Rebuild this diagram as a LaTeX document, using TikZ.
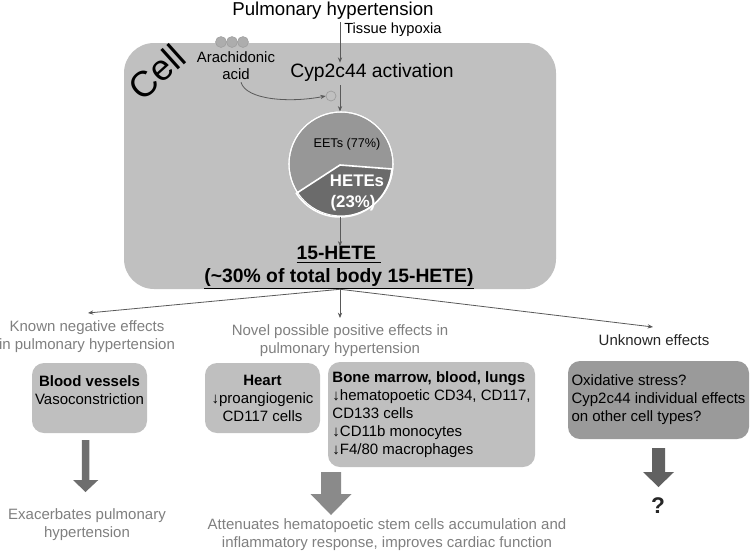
\documentclass[tikz,border=0pt]{standalone}
\usepackage{fontspec}
\setmainfont{Liberation Sans}
\usetikzlibrary{arrows.meta}
\definecolor{cellfill}{HTML}{C0C0C0}
\definecolor{boxfill}{HTML}{BFBFBF}
\definecolor{darkbox}{HTML}{9A9A9A}
\definecolor{eetfill}{HTML}{979797}
\definecolor{hetefill}{HTML}{6B6B6B}
\definecolor{connc}{HTML}{595959}
\definecolor{graytext}{HTML}{7F7F7F}
\definecolor{darktext}{HTML}{262626}
\definecolor{blockA}{HTML}{6E6E6E}
\definecolor{blockB}{HTML}{8A8A8A}
\definecolor{blockC}{HTML}{616161}
\definecolor{dotfill}{HTML}{ADADAD}
\definecolor{dotline}{HTML}{9C9C9C}
\begin{document}
\begin{tikzpicture}[x=0.75pt,y=-0.75pt,
  lbl/.style={inner sep=0pt, align=center, font=\fontsize{11.25}{13.5}\selectfont},
  conn/.style={draw=connc, line width=0.6pt, -{Stealth[length=4pt,width=3.2pt]}},
  lbox/.style={fill=boxfill, rounded corners=9pt, inner sep=0pt, align=center,
    font=\fontsize{11.25}{13.5}\selectfont},
  blockarrow/.style={draw=none}]
\useasboundingbox (0,0) rectangle (750,551);

% cell
\node[fill=cellfill, rounded corners=22.5pt, minimum width=324pt, minimum height=184.5pt, inner sep=0pt] (cell) at (340,166) {};
\coordinate (axis) at (340,0);

% title and hypoxia
\node[inner sep=0pt, anchor=base, font=\fontsize{14}{16}\selectfont] (title) at (333,15) {Pulmonary hypertension};
\node[inner sep=0pt, anchor=west, font=\fontsize{11}{13}\selectfont] (hyp) at (344,30) {Tissue hypoxia};
\node[inner sep=0pt, anchor=base, font=\fontsize{14.5}{17}\selectfont] (cyp) at (372,77) {Cyp2c44 activation};
\draw[conn] (title.south -| axis) ++(0,3) coordinate (t0) (t0) -- (cyp.north -| axis);

% Cell label
\node[rotate=42, inner sep=0pt, font=\fontsize{27}{30}\selectfont] (celllbl) at (157,72) {Cell};

% arachidonic acid
\foreach \i/\xx in {1/221,2/232,3/243}
  \node[circle, fill=dotfill, draw=dotline, line width=0.4pt, minimum size=8.2pt, inner sep=0pt] (dot\i) at (\xx,42) {};
\node[lbl, font=\fontsize{11.2}{12.8}\selectfont] (aa) at (236,66) {Arachidonic\\acid};
\node[circle, draw=dotline, line width=0.5pt, minimum size=7.5pt, inner sep=0pt] (sc) at (331,96) {};
\draw[conn] (aa.south) ++(5,2) coordinate (a0) (a0) .. controls (246,100) and (290,103) .. (sc.west);

% pie
\node[circle, fill=eetfill, draw=white, line width=0.8pt, minimum size=78pt, inner sep=0pt] (pie) at (341,164) {};
\draw[conn] (cyp.south -| axis) ++(0,4) coordinate (c0) (c0) -- (pie.north -| axis);
\fill[hetefill, draw=white, line width=1.2pt] (340,165) -- ++(4.4:52) arc[start angle=4.4, end angle=147, radius=52] -- cycle;
\draw[white, line width=0.8pt] (pie) circle[radius=52];
\node[inner sep=0pt, font=\fontsize{9.5}{11}\selectfont] (eet) at (347,144) {EETs (77\%)};
\node[lbl, text=white, font=\bfseries\fontsize{12.6}{16}\selectfont] (hetes) at (353,193) {\hspace*{6pt}HETEs\\(23\%)};

% 15-HETE
\node[lbl, font=\bfseries\fontsize{14.5}{17}\selectfont] (hete) at (339,268) {\underline{15-HETE\ }\\\underline{(\textasciitilde30\% of total body 15-HETE)}};
\draw[conn] (pie.south -| axis) -- (hete.north -| axis);

% split
\coordinate (tipL) at (88,313);
\coordinate (tipM) at (340,318);
\coordinate (tipR) at (653,327);
\draw[conn] (cell.south) -- (tipL);
\draw[conn] (cell.south) -- (tipM);
\draw[conn] (cell.south) -- (tipR);

\node[lbl, text=graytext] (known) at (87,337) {Known negative effects\\in pulmonary hypertension};
\node[lbl, text=graytext] (novel) at (340,341) {Novel possible positive effects in\\pulmonary hypertension};
\node[lbl, text=darktext] (unkl) at (654,340) {Unknown effects};

% boxes
\node[lbox, minimum width=86.25pt, minimum height=52.5pt] (blood) at (89.5,398) {\textbf{Blood vessels}\\Vasoconstriction\\[-2pt]};
\node[lbox, minimum width=86.25pt, minimum height=52.5pt] (heart) at (262.5,398) {\textbf{Heart}\\↓proangiogenic\\CD117 cells};
\node[lbox, minimum width=155.25pt, minimum height=78.75pt, align=left] (bone) at (431.5,414.5) {\textbf{Bone marrow, blood, lungs}\\↓hematopoetic CD34, CD117,\\CD133 cells\\↓CD11b monocytes\\↓F4/80 macrophages};
\node[lbox, fill=darkbox, minimum width=135.75pt, minimum height=58.5pt, align=left] (unk) at (658.5,400) {Oxidative stress?\\Cyp2c44 individual effects\\on other cell types?};

% block arrows
\fill[blockA] (81.8,440) -- (89.3,440) -- (89.3,480) -- (98.3,480) -- (85.5,492) -- (73,480) -- (81.8,480) -- cycle;
\fill[blockB] (321,472) -- (341,472) -- (341,494) -- (351.5,494) -- (331,515) -- (310.5,494) -- (321,494) -- cycle;
\fill[blockC] (652,448) -- (665,448) -- (665,472) -- (674,472) -- (658.5,487) -- (643,472) -- (652,472) -- cycle;

% outcomes
\node[lbl, text=graytext] (exa) at (87,525) {Exacerbates pulmonary\\hypertension};
\node[lbl, text=graytext] (att) at (387,535) {Attenuates hematopoetic stem cells accumulation and\\inflammatory response, improves cardiac function};
\node[inner sep=0pt, font=\bfseries\fontsize{17}{20}\selectfont, text=darktext] (q) at (658,506) {?};
\end{tikzpicture}
\end{document}
